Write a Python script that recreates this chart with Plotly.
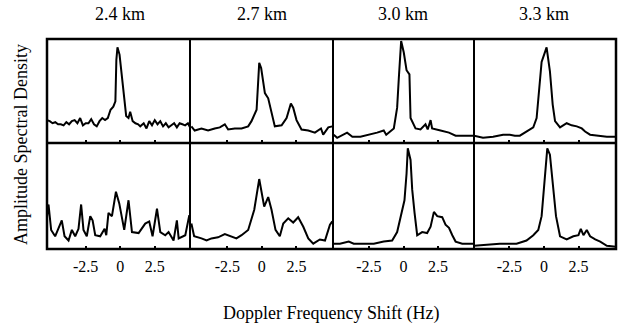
import plotly.graph_objects as go

titles = ["2.4 km", "2.7 km", "3.0 km", "3.3 km"]
tick_vals = [-2.5, 0, 2.5]
tick_text = ["-2.5", "0", "2.5"]
x_ranges = [[-5.3, 5.05], [-5.2, 5.15], [-5.1, 5.1], [-5.05, 5.2]]

# Top row (upper spectra)
p1_top_x = [-5.3, -5.1, -4.9, -4.7, -4.5, -4.3, -4.1, -3.9, -3.7, -3.5, -3.3, -3.1, -2.9, -2.7, -2.5, -2.3, -2.1, -1.9, -1.7, -1.5, -1.3, -1.1, -0.9, -0.7, -0.5, -0.35, -0.28, -0.2, -0.05, 0.12, 0.3, 0.43, 0.6, 0.72, 0.9, 1.1, 1.3, 1.45, 1.7, 1.9, 2.1, 2.3, 2.5, 2.7, 2.9, 3.1, 3.3, 3.5, 3.7, 3.9, 4.1, 4.3, 4.5, 4.7, 4.9, 5.05]
p1_top_y = [0.22, 0.21, 0.19, 0.20, 0.18, 0.18, 0.17, 0.20, 0.18, 0.21, 0.22, 0.19, 0.24, 0.17, 0.19, 0.19, 0.23, 0.18, 0.16, 0.21, 0.24, 0.22, 0.24, 0.32, 0.35, 0.40, 0.80, 0.92, 0.85, 0.66, 0.43, 0.26, 0.24, 0.30, 0.21, 0.19, 0.18, 0.16, 0.19, 0.14, 0.21, 0.17, 0.22, 0.18, 0.21, 0.16, 0.19, 0.15, 0.17, 0.19, 0.15, 0.19, 0.18, 0.17, 0.19, 0.15]

p2_top_x = [-5.1, -4.86, -4.37, -3.89, -3.41, -3.04, -2.68, -2.44, -1.96, -1.47, -0.99, -0.75, -0.38, -0.19, -0.05, 0.22, 0.46, 0.70, 0.94, 1.43, 1.79, 2.1, 2.27, 2.51, 2.87, 3.36, 3.84, 4.28, 4.44, 4.81, 5.1]
p2_top_y = [0.16, 0.12, 0.14, 0.12, 0.14, 0.15, 0.18, 0.13, 0.14, 0.14, 0.16, 0.21, 0.32, 0.77, 0.72, 0.48, 0.43, 0.29, 0.16, 0.17, 0.24, 0.38, 0.34, 0.22, 0.13, 0.12, 0.10, 0.14, 0.08, 0.15, 0.16]

p3_top_x = [-5.05, -4.8, -4.08, -3.7, -3.12, -2.39, -1.91, -1.43, -1.25, -0.70, -0.46, -0.34, -0.17, 0.02, 0.22, 0.43, 0.51, 0.87, 1.23, 1.59, 1.75, 1.96, 2.07, 2.68, 3.29, 3.77, 4.37, 5.1]
p3_top_y = [0.08, 0.05, 0.10, 0.06, 0.06, 0.08, 0.10, 0.12, 0.08, 0.14, 0.34, 0.62, 0.98, 0.87, 0.70, 0.66, 0.24, 0.14, 0.13, 0.18, 0.13, 0.22, 0.14, 0.12, 0.10, 0.07, 0.07, 0.07]

p4_top_x = [-5.05, -4.4, -3.67, -2.95, -2.46, -2.1, -1.74, -1.26, -0.77, -0.53, -0.34, -0.17, 0.19, 0.43, 0.63, 0.80, 1.16, 1.64, 2.0, 2.37, 2.73, 2.97, 3.33, 3.82, 4.54, 5.2]
p4_top_y = [0.07, 0.05, 0.06, 0.08, 0.08, 0.07, 0.07, 0.11, 0.15, 0.24, 0.56, 0.78, 0.92, 0.69, 0.37, 0.21, 0.15, 0.19, 0.17, 0.16, 0.14, 0.11, 0.08, 0.07, 0.06, 0.06]

# Bottom row (lower spectra)
p1_bot_x = [-5.3, -5.19, -5.0, -4.71, -4.23, -4.03, -3.74, -3.5, -3.26, -3.02, -2.83, -2.66, -2.42, -2.17, -2.0, -1.81, -1.45, -1.13, -1.01, -0.85, -0.6, -0.31, -0.07, 0.29, 0.6, 0.85, 1.33, 1.81, 2.1, 2.34, 2.66, 2.9, 3.26, 3.5, 3.86, 4.1, 4.23, 4.71, 5.0]
p1_bot_y = [0.30, 0.42, 0.18, 0.12, 0.27, 0.12, 0.08, 0.18, 0.12, 0.19, 0.42, 0.18, 0.12, 0.31, 0.27, 0.13, 0.12, 0.19, 0.13, 0.34, 0.31, 0.54, 0.43, 0.18, 0.46, 0.16, 0.15, 0.24, 0.26, 0.12, 0.38, 0.16, 0.13, 0.16, 0.08, 0.27, 0.10, 0.13, 0.32]

p2_bot_x = [-5.1, -4.9, -4.37, -4.0, -3.65, -3.17, -2.68, -2.32, -1.84, -1.47, -0.99, -0.55, -0.19, 0.17, 0.46, 0.70, 0.99, 1.3, 1.55, 1.91, 2.27, 2.63, 3.0, 3.36, 3.72, 4.2, 4.57, 4.93, 5.1]
p2_bot_y = [0.24, 0.12, 0.10, 0.08, 0.10, 0.11, 0.14, 0.12, 0.10, 0.13, 0.18, 0.37, 0.66, 0.40, 0.49, 0.37, 0.18, 0.12, 0.24, 0.29, 0.25, 0.30, 0.21, 0.10, 0.05, 0.09, 0.08, 0.23, 0.26]

p3_bot_x = [-5.05, -4.6, -3.96, -3.6, -2.87, -2.15, -1.43, -0.82, -0.46, -0.17, 0.07, 0.22, 0.31, 0.51, 0.63, 0.80, 0.99, 1.35, 1.71, 1.96, 2.2, 2.44, 2.8, 3.04, 3.29, 3.53, 3.77, 4.25, 5.1]
p3_bot_y = [0.05, 0.05, 0.07, 0.05, 0.05, 0.05, 0.07, 0.08, 0.16, 0.31, 0.46, 0.71, 0.95, 0.84, 0.56, 0.34, 0.13, 0.16, 0.15, 0.21, 0.35, 0.31, 0.30, 0.23, 0.20, 0.13, 0.07, 0.05, 0.05]

p4_bot_x = [-5.05, -4.15, -3.19, -1.98, -1.26, -0.77, -0.41, -0.17, 0.07, 0.24, 0.43, 0.63, 0.87, 1.16, 1.64, 2.12, 2.49, 2.66, 2.85, 3.09, 3.33, 3.7, 4.06, 4.54, 5.2]
p4_bot_y = [0.03, 0.04, 0.05, 0.05, 0.08, 0.13, 0.18, 0.31, 0.65, 0.95, 0.89, 0.62, 0.31, 0.12, 0.09, 0.12, 0.13, 0.19, 0.13, 0.18, 0.12, 0.09, 0.07, 0.03, 0.02]

series = [
    [(p1_top_x, p1_top_y), (p2_top_x, p2_top_y), (p3_top_x, p3_top_y), (p4_top_x, p4_top_y)],
    [(p1_bot_x, p1_bot_y), (p2_bot_x, p2_bot_y), (p3_bot_x, p3_bot_y), (p4_bot_x, p4_bot_y)],
]

W, H = 619, 328
col_px = [47, 190, 333, 474, 616]
row_px = [[39, 143], [143, 249]]
FONT = "Liberation Serif"

fig = go.Figure()
layout = dict(
    width=W, height=H, margin=dict(l=0, r=0, t=0, b=0),
    paper_bgcolor="white", plot_bgcolor="white", showlegend=False,
    hovermode=False,
)
for r in range(2):
    for c in range(4):
        k = r * 4 + c + 1
        xs, ys = series[r][c]
        fig.add_trace(go.Scatter(x=xs, y=ys, mode="lines",
                                 line=dict(color="black", width=2),
                                 xaxis=f"x{k}", yaxis=f"y{k}"))
        xd = [col_px[c] / W, col_px[c + 1] / W]
        yd = [1 - row_px[r][1] / H, 1 - row_px[r][0] / H]
        layout[f"xaxis{k}"] = dict(
            domain=xd, anchor=f"y{k}", range=x_ranges[c],
            tickvals=tick_vals, ticktext=tick_text,
            showticklabels=(r == 1), ticks="inside", ticklen=3, tickwidth=1.5,
            tickcolor="black", showgrid=False, zeroline=False,
            showline=True, mirror=True, linecolor="black", linewidth=1,
            tickfont=dict(family=FONT, size=16, color="black"),
            ticklabelstandoff=3,
        )
        layout[f"yaxis{k}"] = dict(
            domain=yd, anchor=f"x{k}", range=[0, 1],
            showticklabels=False, ticks="", showgrid=False, zeroline=False,
            showline=True, mirror=True, linecolor="black", linewidth=1,
        )

annotations = []
for c in range(4):
    annotations.append(dict(
        text=titles[c], xref="x%d" % (c + 1), x=0, yref="paper", y=1 - 14 / H,
        showarrow=False, font=dict(family=FONT, size=18, color="black"),
        xanchor="center", yanchor="middle"))
annotations.append(dict(
    text="Amplitude Spectral Density", xref="paper", x=21 / W, yref="paper",
    y=1 - 145 / H, textangle=-90, showarrow=False,
    font=dict(family=FONT, size=18, color="black"),
    xanchor="center", yanchor="middle"))
annotations.append(dict(
    text="Doppler Frequency Shift (Hz)", xref="paper", x=331 / W, yref="paper",
    y=1 - 313 / H, showarrow=False,
    font=dict(family=FONT, size=18, color="black"),
    xanchor="center", yanchor="middle"))
layout["annotations"] = annotations

shapes = [
    dict(type="rect", xref="paper", yref="paper",
         x0=col_px[0] / W, x1=col_px[-1] / W,
         y0=1 - row_px[1][1] / H, y1=1 - row_px[0][0] / H,
         line=dict(color="black", width=2.5)),
    dict(type="line", xref="paper", yref="paper",
         x0=col_px[0] / W, x1=col_px[-1] / W,
         y0=1 - 143 / H, y1=1 - 143 / H,
         line=dict(color="black", width=2.5)),
]
layout["shapes"] = shapes
fig.update_layout(**layout)
fig.write_html("out.html")
